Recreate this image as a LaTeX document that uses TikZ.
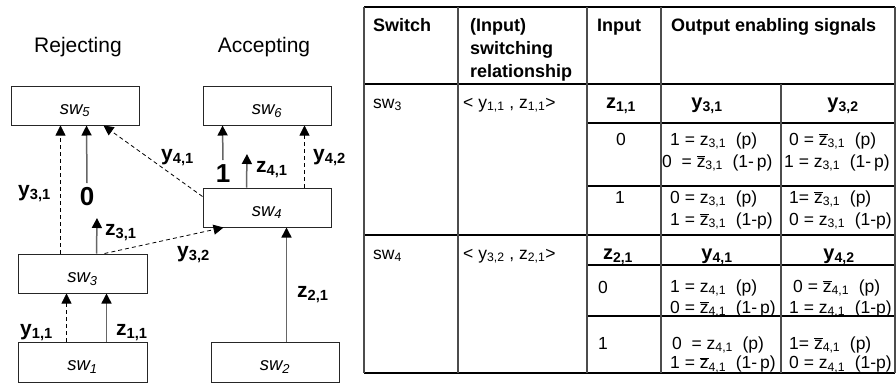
\documentclass[tikz,border=0pt]{standalone}
\usepackage{fontspec}
\setmainfont{Liberation Sans}
\usetikzlibrary{arrows.meta}
\newcommand{\zbar}{\ensuremath{\overline{\mbox{z}}}}
\newcommand{\dn}[1]{\textsubscript{#1}}
\newcommand{\gap}{\hspace{0.55em}}
\begin{document}
\begin{tikzpicture}[x=1pt,y=-1pt,
  swbox/.style={draw=black!85, line width=1pt, minimum height=39pt, inner sep=0pt,
    text height=18pt, text depth=1pt, font=\fontsize{18.5}{20}\selectfont\itshape},
  sol/.style={draw=black!60, line width=1.5pt, -{Triangle[length=10pt,width=10pt,color=black]}},
  dsh/.style={draw=black, line width=0.8pt, dash pattern=on 4pt off 3pt,
    -{Triangle[length=10pt,width=10pt,color=black]}},
  lbl/.style={anchor=base west, inner sep=0pt, font=\fontsize{21}{24}\selectfont\bfseries},
  big/.style={anchor=base, inner sep=0pt, font=\fontsize{26}{28}\selectfont\bfseries},
  ttl/.style={inner sep=0pt, font=\fontsize{21}{24}\selectfont},
  hdr/.style={anchor=base west, inner sep=0pt, font=\fontsize{18}{22}\selectfont\bfseries},
  sub/.style={anchor=base, inner sep=0pt, font=\fontsize{20}{22}\selectfont\bfseries},
  cell/.style={anchor=base west, inner sep=0pt, font=\fontsize{17.5}{20}\selectfont},
  hrule/.style={draw=black, line width=1.2pt},
  vrule/.style={draw=black!70, line width=1.2pt}
]
\useasboundingbox (0,0) rectangle (896,386);

% ---------- switching network ----------
\node[ttl] (rej) at (78,47) {Rejecting};
\node[ttl] (acc) at (264,47) {Accepting};

\node[swbox, minimum width=128pt] (sw5) at (75,105.5) {sw\textsubscript{5}};
\node[swbox, minimum width=128pt] (sw6) at (267,105.5) {sw\textsubscript{6}};
\node[swbox, minimum width=128pt] (sw4) at (267,207.5) {sw\textsubscript{4}};
\node[swbox, minimum width=129pt] (sw3) at (82.5,273.5) {sw\textsubscript{3}};
\node[swbox, minimum width=129pt, minimum height=40pt] (sw1) at (82.5,362) {sw\textsubscript{1}};
\node[swbox, minimum width=128pt, minimum height=40pt] (sw2) at (275,362) {sw\textsubscript{2}};

% free ends of the constant and feedback signals
\coordinate (c0) at (87,183);
\coordinate (c1) at (223,160);
\coordinate (z31) at (97,218);
\coordinate (z41) at (247,154);

% sw1 -> sw3
\draw[dsh] ([xshift=49pt]sw1.north west) -- ([xshift=49pt]sw3.south west);
\draw[sol] ([xshift=89pt]sw1.north west) -- ([xshift=89pt]sw3.south west);
% sw3 -> sw5 / sw4
\draw[dsh] ([xshift=43pt]sw3.north west) -- ([xshift=50pt]sw5.south west);
\draw[sol] (c0) -- ([xshift=76pt]sw5.south west);
\draw[sol] ([xshift=79pt]sw3.north west) -- (z31);
\draw[dsh] ([xshift=87pt]sw3.north west) -- ([xshift=21pt]sw4.south west);
% sw2 -> sw4
\draw[sol] ([xshift=76pt]sw2.north west) -- ([xshift=84pt]sw4.south west);
% sw4 -> sw5 / sw6
\draw[dsh] ([yshift=-9pt]sw4.north west) -- ([xshift=93pt]sw5.south west);
\draw[sol] (c1) -- ([xshift=20pt]sw6.south west);
\draw[sol] ([xshift=44pt]sw4.north west) -- (z41);
\draw[dsh] ([xshift=102pt]sw4.north west) -- ([xshift=102pt]sw6.south west);

% signal labels
\node[lbl] (ly11) at (20,335) {y\textsubscript{1,1}};
\node[lbl] (lz11) at (116,335) {z\textsubscript{1,1}};
\node[lbl] (ly31) at (18,196) {y\textsubscript{3,1}};
\node[big] (l0) at (87,205) {0};
\node[lbl] (lz31) at (105,235) {z\textsubscript{3,1}};
\node[lbl] (ly32) at (177,257) {y\textsubscript{3,2}};
\node[lbl] (ly41) at (161,160) {y\textsubscript{4,1}};
\node[big] (l1) at (223,182) {1};
\node[lbl] (lz41) at (256,172) {z\textsubscript{4,1}};
\node[lbl] (ly42) at (313,160) {y\textsubscript{4,2}};
\node[lbl] (lz21) at (297,297) {z\textsubscript{2,1}};

% ---------- table ----------
\foreach \yy in {7,84,235,373} \draw[hrule] (364,\yy) -- (895,\yy);
\foreach \yy in {123,186,265,316} \draw[hrule] (587,\yy) -- (895,\yy);
\foreach \xx in {364,458,587,661,895} \draw[vrule] (\xx,7) -- (\xx,373);
\draw[vrule] (781,84) -- (781,373);

% header
\node[hdr] (hSw) at (373,31) {Switch};
\node[hdr] (hIn1) at (470,31) {(Input)};
\node[hdr] (hIn2) at (470,54) {switching};
\node[hdr] (hIn3) at (470,77) {relationship};
\node[hdr] (hInp) at (597,31) {Input};
\node[hdr] (hOut) at (671,31) {Output enabling signals};

% sw3 block
\node[cell] (s3) at (373,108) {sw\dn{3}};
\node[cell] (r3) at (463,108) {< y\dn{1,1} , z\dn{1,1}>};
\node[sub] (i3) at (621,108) {z\dn{1,1}};
\node[sub] (o31) at (707,108) {y\dn{3,1}};
\node[sub] (o32) at (843,108) {y\dn{3,2}};
\node[cell, anchor=base] (a0) at (621,145) {0};
\node[cell] (a01) at (670,145) {1 = z\dn{3,1}\gap(p)};
\node[cell] (a02) at (662,167) {0 ~= \zbar\dn{3,1}\gap(1-\,p)};
\node[cell] (a03) at (789,145) {0 = \zbar\dn{3,1}\gap(p)};
\node[cell] (a04) at (784,167) {1 = z\dn{3,1}\gap(1-\,p)};
\node[cell, anchor=base] (a1) at (620,203) {1};
\node[cell] (a11) at (670,203) {0 = z\dn{3,1}\gap(p)};
\node[cell] (a12) at (670,225) {1 = \zbar\dn{3,1}\gap(1-p)};
\node[cell] (a13) at (789,203) {1= \zbar\dn{3,1}\gap(p)};
\node[cell] (a14) at (789,225) {0 = z\dn{3,1}\gap(1-p)};

% sw4 block
\node[cell] (s4) at (373,259) {sw\dn{4}};
\node[cell] (r4) at (463,259) {< y\dn{3,2} , z\dn{2,1}>};
\node[sub] (i4) at (618,259) {z\dn{2,1}};
\node[sub] (o41) at (717,259) {y\dn{4,1}};
\node[sub] (o42) at (839,259) {y\dn{4,2}};
\node[cell] (b0) at (598,293) {0};
\node[cell] (b01) at (670,292) {1 = z\dn{4,1}\gap(p)};
\node[cell] (b02) at (670,313) {0 = \zbar\dn{4,1}\gap(1-\,p)};
\node[cell] (b03) at (793,292) {0 = \zbar\dn{4,1}\gap(p)};
\node[cell] (b04) at (789,313) {1 = z\dn{4,1}\gap(1-p)};
\node[cell] (b1) at (598,349) {1};
\node[cell] (b11) at (672,349) {0 ~= z\dn{4,1}\gap(p)};
\node[cell] (b12) at (670,368.5) {1 = \zbar\dn{4,1}\gap(1-\,p)};
\node[cell] (b13) at (789,349) {1= \zbar\dn{4,1}\gap(p)};
\node[cell] (b14) at (789,368.5) {0 = z\dn{4,1}\gap(1-p)};
\end{tikzpicture}
\end{document}
